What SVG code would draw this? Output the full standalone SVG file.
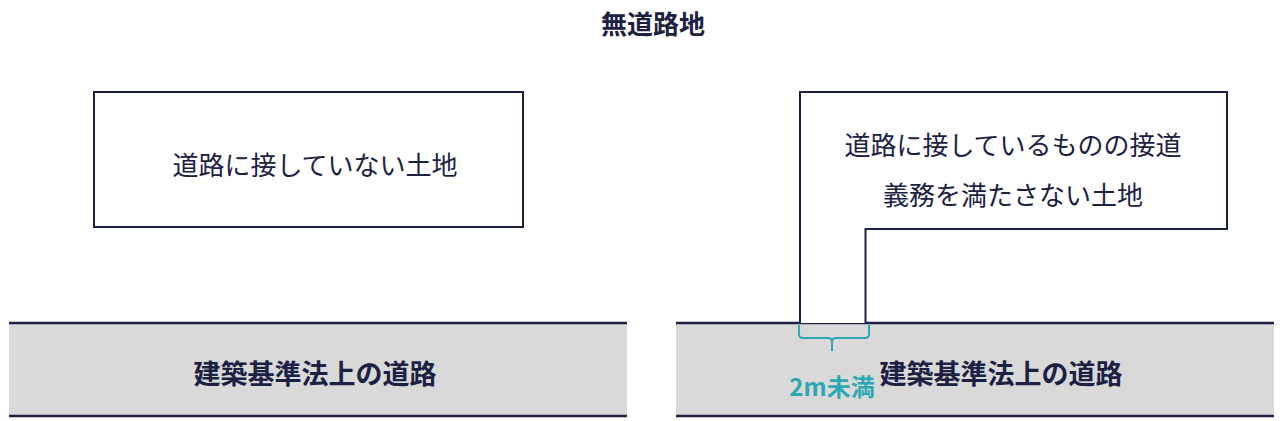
<svg xmlns="http://www.w3.org/2000/svg" width="1280" height="421" viewBox="0 0 1280 421">
<style>
.t{font-family:"Noto Sans CJK JP","Noto Sans",sans-serif;fill:#1c2143;text-anchor:middle;dominant-baseline:central}
.box{fill:#fff;stroke:#1c2143;stroke-width:2}
.road{fill:#d9d9d9}
.edge{stroke:#1c2143;stroke-width:2.5}
.teal{stroke:#2ea7b4;stroke-width:2;fill:none}
</style>
<rect width="1280" height="421" fill="#fff"/>
<g id="title"><text class="t" x="653" y="22" font-size="26" font-weight="bold">無道路地</text></g>
<g id="road-left">
<rect class="road" x="9" y="323" width="618" height="93"/>
<line class="edge" x1="9" y1="323" x2="627" y2="323"/>
<line class="edge" x1="9" y1="416" x2="627" y2="416"/>
<text class="t" x="315" y="372" font-size="27" font-weight="bold">建築基準法上の道路</text>
</g>
<g id="road-right">
<rect class="road" x="676" y="323" width="598" height="93"/>
<line class="edge" x1="676" y1="323" x2="1274" y2="323"/>
<line class="edge" x1="676" y1="416" x2="1274" y2="416"/>
<text class="t" x="1001" y="372" font-size="27" font-weight="bold">建築基準法上の道路</text>
</g>
<g id="land-left">
<rect class="box" x="94" y="92" width="429" height="135"/>
<text class="t" x="315" y="163" font-size="26">道路に接していない土地</text>
</g>
<g id="land-right">
<path class="box" d="M800,323 V92 H1227 V229 H865.5 V323"/>
<text class="t" x="1013" y="143" font-size="26">道路に接しているものの接道</text>
<text class="t" x="1013" y="193" font-size="26">義務を満たさない土地</text>
</g>
<g id="connectors">
<path class="teal" d="M799,325 V334 Q799,338 803,338 H828 Q832,338 832,342 V351 M832,342 Q832,338 836,338 H865 Q869,338 869,334 V325"/>
</g>
<g id="width-label"><text class="t" x="832" y="385" font-size="24" font-weight="bold" style="fill:#2ea7b4">2m未満</text></g>
</svg>
